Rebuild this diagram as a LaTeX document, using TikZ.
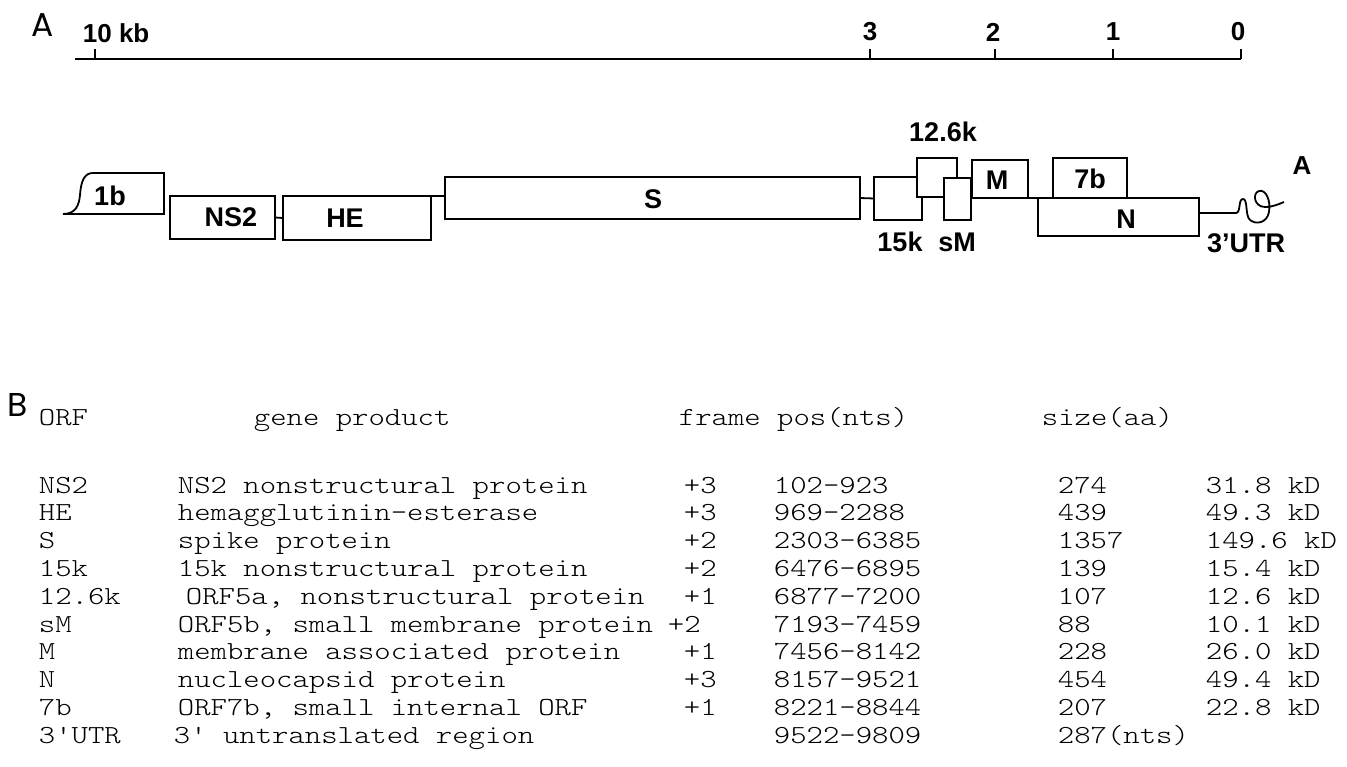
\documentclass[tikz,border=0pt]{standalone}
\usepackage{fontspec}
\setmainfont{Liberation Sans}
\newfontfamily\panelfont{Poppins}
\newfontfamily\tabfont{lmmonolt10-regular.otf}[FakeStretch=1.2]
\begin{document}
\begin{tikzpicture}[x=1pt,y=-1pt,line width=1.8pt,
  gene/.style={draw,fill=white,rectangle,inner sep=0pt,outer sep=0pt,line width=1.8pt},
  lab/.style={font=\fontsize{27}{29}\selectfont\bfseries,inner sep=0pt},
  scl/.style={font=\fontsize{26}{28}\selectfont\bfseries,inner sep=0pt},
  panel/.style={font=\panelfont\fontsize{33}{35}\selectfont,inner sep=0pt},
  tb/.style={font=\tabfont\fontsize{26}{28}\selectfont,anchor=base west,inner sep=0pt},
  tickline/.style={line width=1.8pt}]
\useasboundingbox (0,0) rectangle (1347,767);

% panel letters
\node[panel] (pA) at (43,25) {A};
\node[panel] (pB) at (18,405) {B};

% scale bar
\coordinate (sL) at (75,59);
\coordinate (sR) at (1241,59);
\draw[line width=2.2pt] (sL) -- (sR);
\foreach \x/\n in {95/t10,870/t3,995/t2,1113/t1,1241/t0}{
  \coordinate (\n) at (\x,59);
  \draw[tickline] (\n) -- ++(0,-10);
}
\node[scl,anchor=west] (l10) at (82,33) {10 kb};
\node[scl] (l3) at (870,32) {3};
\node[scl] (l2) at (993,32) {2};
\node[scl] (l1) at (1113,32) {1};
\node[scl] (l0) at (1238,32) {0};

% ORF 1b
\draw[fill=white] (63,214) .. controls (76,214) and (79,205) .. (80,195)
  .. controls (81,180) and (85,173) .. (93,173) -- (164,173) -- (164,214) -- cycle;
\node[lab] (t1b) at (110,196) {1b};

% gene boxes
\node[gene,minimum width=105pt,minimum height=43pt] (ns2) at (222.5,217.5) {};
\node[lab] at (231,217) {NS2};
\node[gene,minimum width=148pt,minimum height=44pt] (he) at (357,218) {};
\node[lab] at (345,218) {HE};
\node[gene,minimum width=415pt,minimum height=42pt] (s) at (652.5,198) {};
\node[lab] at (653,199) {S};
\node[gene,minimum width=48pt,minimum height=43pt] (k15) at (898,198.5) {};
\node[gene,minimum width=40pt,minimum height=39pt] (k126) at (937,177.5) {};
\node[gene,minimum width=27pt,minimum height=42pt] (sm) at (957.5,199) {};
\node[gene,minimum width=56pt,minimum height=38pt] (m) at (1000,179) {};
\node[lab] at (997,180) {M};
\node[gene,minimum width=74pt,minimum height=40pt] (b7) at (1090,178) {};
\node[lab] at (1090,179) {7b};
\node[gene,minimum width=161pt,minimum height=38pt] (n) at (1118.5,217) {};
\node[lab] at (1126,219) {N};

% outside labels
\node[lab] (l15k) at (900,242) {15k};
\node[lab] (lsm) at (957,242) {sM};
\node[lab] (l126) at (943,132) {12.6k};
\node[lab] (lutr) at (1246,243) {3’UTR};
\node[scl] (lA) at (1302,166) {A};

% connectors
\draw (ns2.east) -- (he.west);
\draw (he.north east) -- (he.north east -| s.west);
\draw (s.east) -- (k15.west);
\draw (m.south east) -- (n.north west);
\coordinate (utr0) at (1236,213);
\draw ([yshift=4pt]n.east) -- (utr0)
  .. controls (1241,213) and (1238,199) .. (1243,199)
  .. controls (1248,199) and (1245,216) .. (1250,220)
  .. controls (1256,225) and (1267,223) .. (1269,212)
  .. controls (1271,201) and (1266,189) .. (1259,191)
  .. controls (1252,193) and (1254,207) .. (1265,207)
  .. controls (1273,207) and (1279,204) .. (1284,202);

% table B
\node[tb] (hORF) at (38,425) {ORF};
\node[tb] (hGP) at (253,425) {gene product};
\node[tb] (hFP) at (678,425) {frame pos(nts)};
\node[tb] (hSZ) at (1041,425) {size(aa)};

\def\rowA{493}
\foreach \i/\orf/\gx/\gp/\fx/\fr/\pos/\sz/\kd in {
  0/NS2/177/NS2 nonstructural protein/683/+3/102-923/274/31.8 kD,
  1/HE/177/hemagglutinin-esterase/683/+3/969-2288/439/49.3 kD,
  2/S/177/spike protein/683/+2/2303-6385/1357/149.6 kD,
  3/15k/177/15k nonstructural protein/683/+2/6476-6895/139/15.4 kD,
  4/12.6k/185/{ORF5a, nonstructural protein}/683/+1/6877-7200/107/12.6 kD,
  5/sM/177/{ORF5b, small membrane protein}/667/+2/7193-7459/88/10.1 kD,
  6/M/177/membrane associated protein/683/+1/7456-8142/228/26.0 kD,
  7/N/177/nucleocapsid protein/683/+3/8157-9521/454/49.4 kD,
  8/7b/177/{ORF7b, small internal ORF}/683/+1/8221-8844/207/22.8 kD,
  9/3'UTR/173/3' untranslated region/683//9522-9809/287(nts)/}{
  \pgfmathsetmacro\yy{\rowA+27.8*\i}
  \node[tb] (orf\i) at (38,\yy) {\orf};
  \node[tb] (gp\i) at (\gx,\yy) {\gp};
  \node[tb] (fr\i) at (\fx,\yy) {\fr};
  \node[tb] (pos\i) at (773,\yy) {\pos};
  \node[tb] (sz\i) at (1057,\yy) {\sz};
  \node[tb] (kd\i) at (1205,\yy) {\kd};
}
\end{tikzpicture}
\end{document}
